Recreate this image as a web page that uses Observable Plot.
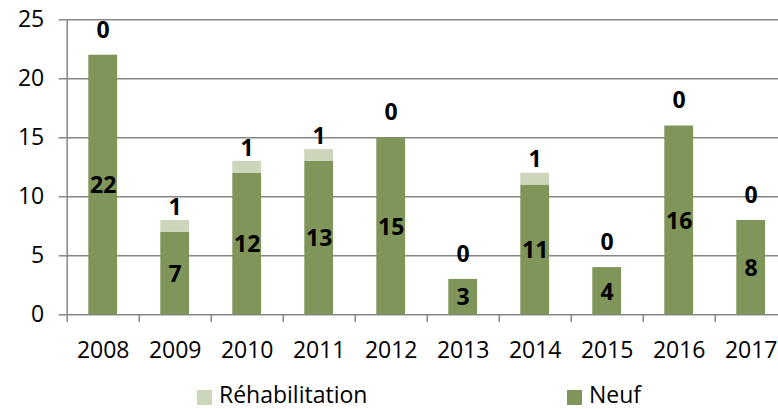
<!DOCTYPE html>
<html>
<head>
<meta charset="utf-8">
<script src="https://cdn.jsdelivr.net/npm/d3@7"></script>
<script src="https://cdn.jsdelivr.net/npm/@observablehq/plot@0.6"></script>
<style>
  body { margin: 0; background: #fff; font-family: "Open Sans", sans-serif; }
  #wrap { width: 778px; height: 409px; position: relative; overflow: hidden; }
  #legend { position: relative; height: 29px; font-size: 23px; color: #000; }
  .sw { position: absolute; top: 10px; width: 15px; height: 15px; }
  .tx { position: absolute; top: 4px; line-height: 20px; white-space: nowrap; }
</style>
</head>
<body>
<div id="wrap"></div>
<script>
const years = [2008, 2009, 2010, 2011, 2012, 2013, 2014, 2015, 2016, 2017];
const neuf = [22, 7, 12, 13, 15, 3, 11, 4, 16, 8];
const rehab = [0, 1, 1, 1, 0, 0, 1, 0, 0, 0];
const seriesNames = ["Réhabilitation", "Neuf"];
const seriesColors = ["#cbd6bb", "#7f955a"];
const yTicks = [0, 5, 10, 15, 20, 25];

const rows = years.map((year, i) => ({year, neuf: neuf[i], rehab: rehab[i]}));
const segs = [];
rows.forEach(r => {
  segs.push({year: r.year, s: "Neuf", y1: 0, y2: r.neuf});
  segs.push({year: r.year, s: "Réhabilitation", y1: r.neuf, y2: r.neuf + r.rehab});
});
const bounds = years.map(y => y - 0.5);
const xDomain = [years[0] - 0.5, years[years.length - 1] + 0.5];
const font = "'Open Sans', sans-serif";

const chart = Plot.plot({
  width: 778,
  height: 380,
  marginLeft: 66.7,
  marginRight: 0,
  marginTop: 19.3,
  marginBottom: 65.7,
  style: {fontFamily: font, color: "#000", background: "#fff"},
  x: {domain: xDomain, range: [66.7, 786.7]},
  y: {domain: [0, 25], range: [314.3, 19.3]},
  color: {domain: seriesNames, range: seriesColors},
  marks: [
    Plot.gridY(yTicks, {stroke: "#868686", strokeOpacity: 1, strokeWidth: 1.5}),
    Plot.rect(segs, {x1: d => d.year - 0.2, x2: d => d.year + 0.2, y1: "y1", y2: "y2", fill: "s"}),
    Plot.ruleX([xDomain[0]], {y1: 0, y2: 25, stroke: "#868686", strokeWidth: 1.5}),
    Plot.axisY({ticks: yTicks, tickSize: 8, tickPadding: 15, fontSize: 23, stroke: "#868686", strokeWidth: 1.5, label: null}),
    Plot.axisX({ticks: bounds, tickSize: 8, tickFormat: () => "", stroke: "#868686", strokeWidth: 1.5, label: null}),
    Plot.axisX({ticks: years, tickSize: 0, tickPadding: 27, fontSize: 23, tickFormat: d => String(d), label: null}),
    Plot.text(rows, {x: "year", y: d => d.neuf / 2, text: d => String(d.neuf), fontWeight: "bold", fontSize: 23, dy: 1, fill: "#000"}),
    Plot.text(rows, {x: "year", y: "neuf", text: d => String(d.rehab), fontWeight: "bold", fontSize: 23, dy: -25, fill: "#000"})
  ]
});
const wrap = document.getElementById("wrap");
wrap.appendChild(chart);

const legend = document.createElement("div");
legend.id = "legend";
const lefts = [197, 567];
seriesNames.forEach((name, i) => {
  const sw = document.createElement("div");
  sw.className = "sw";
  sw.style.left = lefts[i] + "px";
  sw.style.background = seriesColors[i];
  const tx = document.createElement("div");
  tx.className = "tx";
  tx.style.left = (lefts[i] + 22) + "px";
  tx.textContent = name;
  legend.appendChild(sw);
  legend.appendChild(tx);
});
wrap.appendChild(legend);
</script>
</body>
</html>
